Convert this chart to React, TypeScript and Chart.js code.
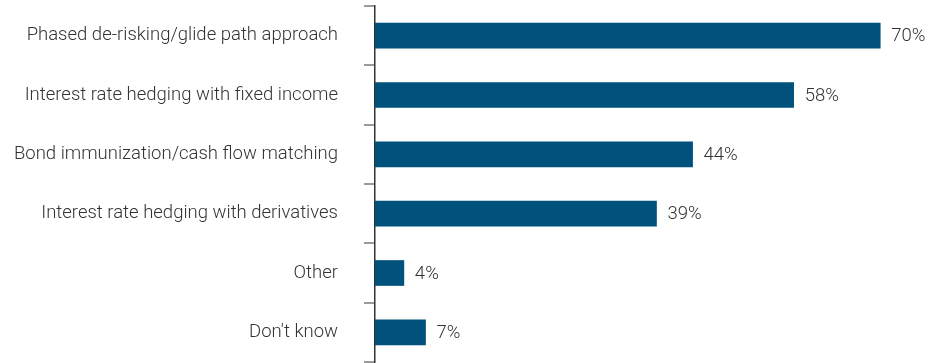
import React, { useEffect, useRef } from "react";
import { Chart, registerables } from "chart.js";

Chart.register(...registerables);

const categories = [
  "Phased de-risking/glide path approach",
  "Interest rate hedging with fixed income",
  "Bond immunization/cash flow matching",
  "Interest rate hedging with derivatives",
  "Other",
  "Don't know",
];
const values = [70, 58, 44, 39, 4, 7];
const valueLabels = ["70%", "58%", "44%", "39%", "4%", "7%"];

const FONT = "Roboto, 'Liberation Sans', Arial, sans-serif";

const valueLabelPlugin = {
  id: "valueLabels",
  afterDatasetsDraw(chart: any) {
    const ctx = chart.ctx;
    const meta = chart.getDatasetMeta(0);
    ctx.save();
    ctx.font = `300 18.5px ${FONT}`;
    ctx.fillStyle = "#333333";
    ctx.textAlign = "left";
    ctx.textBaseline = "middle";
    meta.data.forEach((bar: any, i: number) => {
      ctx.fillText(valueLabels[i], bar.x + 11, bar.y + 1);
    });
    ctx.restore();
  },
};

const zeroPad = (s: any) => {
  s.paddingTop = 0;
  s.paddingBottom = 0;
  s.paddingLeft = 0;
  s.paddingRight = 0;
};

export default function App() {
  const ref = useRef<HTMLCanvasElement | null>(null);
  useEffect(() => {
    if (!ref.current) return;
    const chart = new Chart(ref.current, {
      type: "bar",
      data: {
        labels: categories,
        datasets: [
          {
            data: values,
            backgroundColor: "#00527D",
            barThickness: 25,
          },
        ],
      },
      options: {
        indexAxis: "y",
        animation: false,
        responsive: false,
        layout: { padding: { top: 6, bottom: 1, right: 3, left: 0 } },
        plugins: { legend: { display: false }, tooltip: { enabled: false } },
        scales: {
          x: { display: false, min: 0, max: 78, afterFit: zeroPad },
          y: {
            afterFit: (s: any) => {
              zeroPad(s);
              s.width = 375;
            },
            grid: {
              drawOnChartArea: false,
              tickLength: 11,
              color: "#9a9a9a",
              lineWidth: 2,
              offset: true,
            },
            border: { color: "#333333", width: 1.5 },
            ticks: {
              color: "#333333",
              font: { family: FONT, size: 18.5, weight: 300 as any },
              padding: 26,
            },
          },
        },
      },
      plugins: [valueLabelPlugin],
    });
    return () => chart.destroy();
  }, []);
  return (
    <div style={{ position: "absolute", left: 0, top: 0, width: 941, height: 363 }}>
      <canvas ref={ref} width={941} height={363} style={{ display: "block" }} />
    </div>
  );
}
